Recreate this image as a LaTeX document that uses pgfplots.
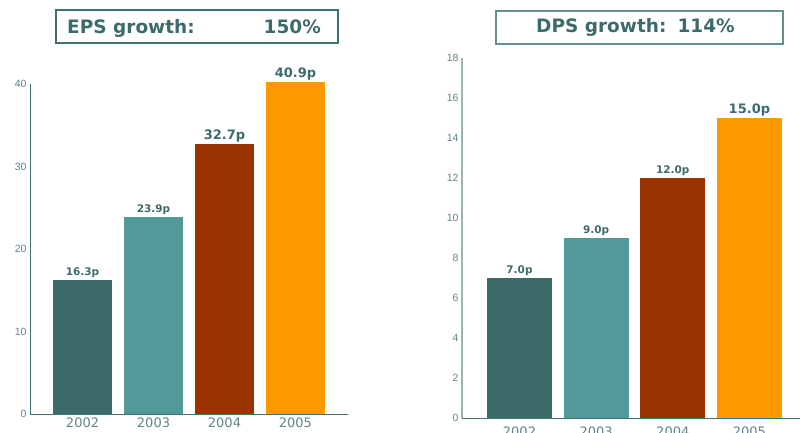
\documentclass[border=0pt]{standalone}
\usepackage{pgfplots}
\pgfplotsset{compat=1.18}
\usepackage{fontspec}
\setmainfont{DejaVu Sans}
\newfontfamily\tickfont{Liberation Sans}
\definecolor{txt}{HTML}{3D6B6B}
\definecolor{tick}{HTML}{5F8585}
\definecolor{cA}{HTML}{3D6B69}
\definecolor{cB}{HTML}{52999A}
\definecolor{cC}{HTML}{993300}
\definecolor{cD}{HTML}{FF9900}
\definecolor{axl}{HTML}{3D7373}
\definecolor{axr}{HTML}{9AB5B3}
\begin{document}
\begin{tikzpicture}
\useasboundingbox (0pt,0pt) rectangle (800pt,432pt);
\pgfplotsset{
  mybars/.style={
    scale only axis, clip=false,
    ybar, major tick length=0pt,
    xtick={0,1,2,3}, xticklabels={2002,2003,2004,2005},
    ymin=0,
    x tick label style={font=\fontsize{13}{14}\selectfont, text=tick},
    y tick label style={font=\tickfont\fontsize{10.5}{11}\selectfont, text=tick},
    /pgf/number format/assume math mode=true,
    axis x line*=bottom, axis y line*=left,
    every node near coord/.append style={text=txt, font=\bfseries\fontsize{10.5}{11}\selectfont, inner sep=2pt},
  },
}
% Left chart
\begin{axis}[mybars, at={(30pt,18pt)}, anchor=south west, width=318pt, height=330pt,
  xmin=-0.74, xmax=3.74, ymax=40, ytick={0,10,20,30,40}, bar width=59pt,
  x axis line style={-, color=axl, line width=1pt},
  y axis line style={-, color=axl, line width=1pt}]
\addplot[fill=cA, draw=none, bar shift=0pt, nodes near coords={16.3p}] coordinates {(0,16.3)};
\addplot[fill=cB, draw=none, bar shift=0pt, nodes near coords={23.9p}] coordinates {(1,23.9)};
\addplot[fill=cC, draw=none, bar shift=0pt, nodes near coords={32.7p}, every node near coord/.append style={font=\bfseries\fontsize{13}{14}\selectfont}] coordinates {(2,32.7)};
\addplot[fill=cD, draw=none, bar shift=0pt, nodes near coords={40.9p}, every node near coord/.append style={font=\bfseries\fontsize{13}{14}\selectfont}] coordinates {(3,40.2)};
\end{axis}
% Right chart
\begin{axis}[mybars, at={(462pt,14pt)}, anchor=south west, width=338pt, height=360pt,
  xmin=-0.75, xmax=3.66, ymax=18, ytick={0,2,...,18}, bar width=65pt,
  x axis line style={-, color=axl, line width=1pt},
  y axis line style={-, color=axr, line width=1.5pt},
  x tick label style={yshift=-5pt}]
\addplot[fill=cA, draw=none, bar shift=0pt, nodes near coords={7.0p}] coordinates {(0,7.0)};
\addplot[fill=cB, draw=none, bar shift=0pt, nodes near coords={9.0p}] coordinates {(1,9.0)};
\addplot[fill=cC, draw=none, bar shift=0pt, nodes near coords={12.0p}] coordinates {(2,12.0)};
\addplot[fill=cD, draw=none, bar shift=0pt, nodes near coords={15.0p}, every node near coord/.append style={font=\bfseries\fontsize{13}{14}\selectfont}] coordinates {(3,15.0)};
\end{axis}
% Title boxes
\draw[axl, line width=1.3pt] (56pt,389pt) rectangle (338pt,422pt);
\node[anchor=base west, inner sep=0, text=txt, font=\bfseries\fontsize{18.5}{20}\selectfont] at (67pt,398pt) {EPS growth:};
\node[anchor=base east, inner sep=0, text=txt, font=\bfseries\fontsize{18.5}{20}\selectfont] at (321pt,398pt) {150\%};
\draw[color=axl!80!white, line width=1.3pt] (496pt,388pt) rectangle (783pt,421pt);
\node[anchor=base west, inner sep=0, text=txt, font=\bfseries\fontsize{18.5}{20}\selectfont] at (536pt,399pt) {DPS growth:\hspace{0.6em}114\%};
\end{tikzpicture}
\end{document}
